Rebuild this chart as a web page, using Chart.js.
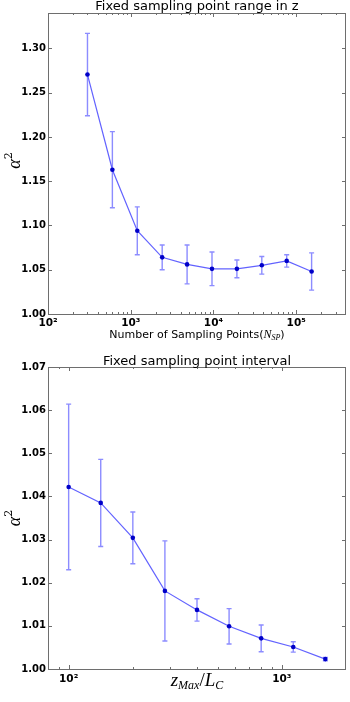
<!DOCTYPE html>
<html><head><meta charset="utf-8">
<script src="https://cdn.jsdelivr.net/npm/chart.js@4/dist/chart.umd.min.js"></script>
<style>
html,body{margin:0;padding:0;background:#fff;overflow:hidden;}
#w1{position:absolute;left:0;top:0;width:350px;height:350px;}
#w2{position:absolute;left:0;top:350px;width:350px;height:352px;}
</style></head><body>
<div id="w1"><canvas id="c1"></canvas></div>
<div id="w2"><canvas id="c2"></canvas></div>
<script>
// ---- data ----
const topSamplingPoints = [300, 600, 1200, 2400, 4800, 9600, 19200, 38400, 76800, 153600];
const topAlpha2 = [1.2705, 1.163, 1.094, 1.064, 1.056, 1.051, 1.051, 1.055, 1.060, 1.048];
const topErr = [0.0465, 0.043, 0.027, 0.014, 0.022, 0.019, 0.010, 0.010, 0.007, 0.021];
const topYTicks = [1.00, 1.05, 1.10, 1.15, 1.20, 1.25, 1.30];
const topXTicks = [100, 1000, 10000, 100000];

const bottomZRatio = [100, 141.4, 200, 282.8, 400, 565.7, 800, 1131.4, 1600];
const bottomAlpha2 = [1.0422, 1.0385, 1.0304, 1.0181, 1.0137, 1.0099, 1.0071, 1.0051, 1.0023];
const bottomErr = [0.0192, 0.0101, 0.0060, 0.0116, 0.0026, 0.0041, 0.0031, 0.0012, 0.0004];
const bottomYTicks = [1.00, 1.01, 1.02, 1.03, 1.04, 1.05, 1.06, 1.07];
const bottomXTicks = [100, 1000];

const SUP = {'0':'⁰','1':'¹','2':'²','3':'³','4':'⁴','5':'⁵','6':'⁶','7':'⁷','8':'⁸','9':'⁹'};
function powLabel(v){ const e = Math.round(Math.log10(v)); return '10' + String(e).split('').map(c=>SUP[c]).join(''); }

const LINE_COLOR = 'rgba(90,90,255,0.95)';
const ERR_COLOR = 'rgba(120,120,255,0.85)';
const MARK_COLOR = '#0000c8';
const FRAME = '#6e6e6e';

function drawSegments(ctx, parts, x, y, align){
  let w = 0;
  parts.forEach(p=>{ ctx.font = p.font; p.w = ctx.measureText(p.t).width; w += p.w; });
  let cx = align === 'center' ? x - w/2 : x;
  parts.forEach(p=>{ ctx.font = p.font; ctx.fillText(p.t, cx, y + (p.dy||0)); cx += p.w; });
}

function makeDeco(cfg){
  return {
    id: 'deco',
    beforeDatasetsDraw(chart){
      const ctx = chart.ctx, xs = chart.scales.x, ys = chart.scales.y;
      const ds = chart.data.datasets[0];
      ctx.save();
      ctx.strokeStyle = ERR_COLOR; ctx.lineWidth = 1.4;
      ds.data.forEach((p,i)=>{
        const x = xs.getPixelForValue(p.x);
        const y1 = ys.getPixelForValue(p.y + cfg.err[i]);
        const y2 = ys.getPixelForValue(p.y - cfg.err[i]);
        ctx.beginPath();
        ctx.moveTo(x, y1); ctx.lineTo(x, y2);
        ctx.moveTo(x-2.5, y1); ctx.lineTo(x+2.5, y1);
        ctx.moveTo(x-2.5, y2); ctx.lineTo(x+2.5, y2);
        ctx.stroke();
      });
      ctx.restore();
    },
    afterDraw(chart){
      const ctx = chart.ctx, a = chart.chartArea, xs = chart.scales.x, ys = chart.scales.y;
      ctx.save();
      ctx.strokeStyle = FRAME; ctx.lineWidth = 1;
      ctx.strokeRect(Math.round(a.left)+0.5, Math.round(a.top)+0.5, Math.round(a.right-a.left)-1, Math.round(a.bottom-a.top));
      ctx.beginPath();
      cfg.yTicks.forEach(v=>{
        const y = Math.round(ys.getPixelForValue(v))+0.5;
        ctx.moveTo(a.left, y); ctx.lineTo(a.left+4, y);
        ctx.moveTo(a.right, y); ctx.lineTo(a.right-4, y);
      });
      cfg.xTicks.forEach(v=>{
        const x = Math.round(xs.getPixelForValue(v))+0.5;
        ctx.moveTo(x, a.bottom); ctx.lineTo(x, a.bottom-4);
        ctx.moveTo(x, a.top); ctx.lineTo(x, a.top+4);
      });
      const lo = Math.floor(Math.log10(xs.min)), hi = Math.ceil(Math.log10(xs.max));
      for (let k = lo; k <= hi; k++){
        for (let m = 2; m <= 9; m++){
          const v = m * Math.pow(10,k);
          if (v <= xs.min || v >= xs.max) continue;
          const x = Math.round(xs.getPixelForValue(v))+0.5;
          ctx.moveTo(x, a.bottom); ctx.lineTo(x, a.bottom-2);
          ctx.moveTo(x, a.top); ctx.lineTo(x, a.top+2);
        }
      }
      ctx.stroke();
      ctx.fillStyle = '#000';
      ctx.textAlign = 'center'; ctx.textBaseline = 'alphabetic';
      ctx.font = '13px "DejaVu Sans"';
      ctx.fillText(cfg.title, (a.left+a.right)/2, cfg.titleY);
      ctx.textAlign = 'left';
      drawSegments(ctx, cfg.xLabel, (a.left+a.right)/2, cfg.xLabelY, 'center');
      ctx.translate(cfg.yLabelX, (a.top+a.bottom)/2 + cfg.yLabelDy);
      ctx.rotate(-Math.PI/2);
      drawSegments(ctx, [
        {t:'α', font:'italic 18px "Liberation Serif"'},
        {t:'2', font:'11px "DejaVu Serif"', dy:-8}
      ], 0, 5, 'center');
      ctx.restore();
    }
  };
}

function makeChart(id, xs, ys, err, opts){
  const data = xs.map((x,i)=>({x:x, y:ys[i]}));
  return new Chart(document.getElementById(id), {
    type: 'line',
    data: { datasets: [{
      data: data,
      borderColor: LINE_COLOR, borderWidth: 1.2,
      pointRadius: 2.3, pointBackgroundColor: MARK_COLOR, pointBorderColor: MARK_COLOR, pointBorderWidth: 0,
      tension: 0, fill: false
    }]},
    options: {
      responsive: true, maintainAspectRatio: false, animation: false,
      devicePixelRatio: 1,
      layout: { padding: opts.padding },
      plugins: { legend: {display:false}, tooltip: {enabled:false}, title: {display:false} },
      scales: {
        x: {
          type: 'logarithmic', min: opts.xMin, max: opts.xMax,
          grid: {display:false, drawTicks:false}, border: {display:false},
          afterBuildTicks: s => { s.ticks = opts.xTicks.map(v=>({value:v})); },
          afterFit: s => { s.height = opts.xAxisH; },
          ticks: { autoSkip:false, maxRotation:0, padding: opts.xTickPad, color:'#000',
                   font: {family:'"DejaVu Sans"', size:10.5, weight:'bold'},
                   callback: v => powLabel(v) }
        },
        y: {
          type: 'linear', min: opts.yMin, max: opts.yMax,
          grid: {display:false, drawTicks:false}, border: {display:false},
          afterBuildTicks: s => { s.ticks = opts.yTicks.map(v=>({value:v})); },
          afterFit: s => { s.width = 48; },
          ticks: { autoSkip:false, padding: 2, color:'#000',
                   font: {family:'"DejaVu Sans"', size:10, weight:'bold'},
                   callback: v => Number(v).toFixed(2) }
        }
      }
    },
    plugins: [makeDeco({err: err, yTicks: opts.yTicks, xTicks: opts.xTicks, title: opts.title,
                        titleY: opts.titleY, xLabel: opts.xLabel, xLabelY: opts.xLabelY,
                        yLabelX: 15, yLabelDy: opts.yLabelDy})]
  });
}

makeChart('c1', topSamplingPoints, topAlpha2, topErr, {
  padding: {top:13, right:1, left:0, bottom:0},
  xMin: 100, xMax: 400000, yMin: 1.0, yMax: 1.34,
  xTicks: topXTicks, yTicks: topYTicks, xAxisH: 36, xTickPad: 3,
  title: 'Fixed sampling point range in z', titleY: 10,
  xLabel: [
    {t:'Number of Sampling Points(', font:'11px "DejaVu Sans"'},
    {t:'N', font:'italic 12px "Liberation Serif"'},
    {t:'SP', font:'italic 8px "Liberation Serif"', dy:2},
    {t:')', font:'11px "DejaVu Sans"'}
  ], xLabelY: 338, yLabelDy: -3
});

makeChart('c2', bottomZRatio, bottomAlpha2, bottomErr, {
  padding: {top:17, right:1, left:0, bottom:0},
  xMin: 80, xMax: 2000, yMin: 1.0, yMax: 1.07,
  xTicks: bottomXTicks, yTicks: bottomYTicks, xAxisH: 33, xTickPad: 4,
  title: 'Fixed sampling point interval', titleY: 15,
  xLabel: [
    {t:'z', font:'italic 19px "Liberation Serif"'},
    {t:'Max', font:'italic 12px "Liberation Serif"', dy:3},
    {t:'/', font:'19px "Liberation Serif"'},
    {t:'L', font:'italic 19px "Liberation Serif"'},
    {t:'C', font:'italic 12px "Liberation Serif"', dy:3}
  ], xLabelY: 336, yLabelDy: 0
});
</script>
</body></html>
